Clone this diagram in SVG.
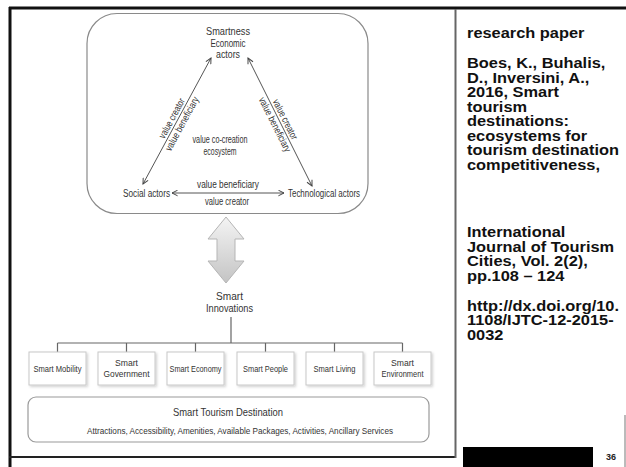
<svg xmlns="http://www.w3.org/2000/svg" width="626" height="467" viewBox="0 0 626 467">
  <defs>
    <style>
      .d { font-family: "Liberation Sans", Arial, sans-serif; fill: #333; font-size: 10px; text-anchor: middle; }
      .b { font-size: 9.5px; }
      .ref { font-family: "Liberation Sans", Arial, sans-serif; font-weight: bold; font-size: 14.5px; fill: #111; }
      .conn { stroke: #555; stroke-width: 1; fill: none; }
      .tree { stroke: #666; stroke-width: 1.2; fill: none; }
      .box { fill: #fff; stroke: #c8c8c8; stroke-width: 1; filter: url(#shadow); }
    </style>
    <marker id="head" viewBox="0 0 10 10" refX="9" refY="5" markerWidth="7" markerHeight="7" orient="auto-start-reverse" markerUnits="userSpaceOnUse">
      <path d="M1,1 L9,5 L1,9" fill="none" stroke="#444" stroke-width="1.4"/>
    </marker>
    <linearGradient id="arrowFill" x1="0" y1="0" x2="0" y2="1">
      <stop offset="0" stop-color="#f4f4f4"/>
      <stop offset="1" stop-color="#c4c4c4"/>
    </linearGradient>
    <filter id="shadow" x="-10%" y="-10%" width="125%" height="130%">
      <feDropShadow dx="1.5" dy="1.5" stdDeviation="1" flood-color="#000" flood-opacity="0.18"/>
    </filter>
  </defs>

  <rect width="626" height="467" fill="#fff"/>

  <!-- slide frame -->
  <g id="frame">
    <line x1="9" y1="8" x2="626" y2="8" stroke="#111" stroke-width="3"/>
    <line x1="10" y1="7" x2="10" y2="467" stroke="#111" stroke-width="3"/>
    <line x1="9" y1="457" x2="456" y2="457" stroke="#222" stroke-width="2"/>
    <line x1="455.5" y1="9" x2="455.5" y2="458" stroke="#666" stroke-width="2"/>
    <line x1="625" y1="415" x2="625" y2="467" stroke="#777" stroke-width="1"/>
  </g>

  <!-- ecosystem panel (labels condensed to fit) -->
  <g id="ecosystem">
    <rect x="87" y="13.5" width="281" height="200" rx="30" fill="#fff" stroke="#8a8a8a" stroke-width="1.2"/>
    <text class="d" x="228" y="35" style="font-size:10.5px" textLength="44" lengthAdjust="spacingAndGlyphs">Smartness</text>
    <text class="d" x="228" y="46.5" textLength="35" lengthAdjust="spacingAndGlyphs">Economic</text>
    <text class="d" x="228" y="58" textLength="24" lengthAdjust="spacingAndGlyphs">actors</text>
    <text class="d" x="220" y="143" textLength="55" lengthAdjust="spacingAndGlyphs">value co-creation</text>
    <text class="d" x="220" y="154.5" textLength="33" lengthAdjust="spacingAndGlyphs">ecosystem</text>
  </g>
  <g id="social-actors">
    <text class="d" x="170" y="196.5" style="text-anchor:end" textLength="47" lengthAdjust="spacingAndGlyphs">Social actors</text>
  </g>
  <g id="technological-actors">
    <text class="d" x="288" y="196.5" style="text-anchor:start" textLength="72" lengthAdjust="spacingAndGlyphs">Technological actors</text>
  </g>

  <!-- connectors between actors -->
  <g id="connectors">
    <line class="conn" x1="143" y1="184" x2="211" y2="58" marker-start="url(#head)" marker-end="url(#head)"/>
    <line class="conn" x1="248" y1="58" x2="312" y2="186" marker-start="url(#head)" marker-end="url(#head)"/>
    <line class="conn" x1="172" y1="193" x2="284" y2="193" marker-start="url(#head)" marker-end="url(#head)"/>
    <g transform="translate(177,121) rotate(-61.6)">
      <text class="d" x="0" y="-2.5" textLength="44" lengthAdjust="spacingAndGlyphs">value creator</text>
      <text class="d" x="0" y="9" textLength="60" lengthAdjust="spacingAndGlyphs">value beneficiary</text>
    </g>
    <g transform="translate(280,122) rotate(63.4)">
      <text class="d" x="0" y="-2.5" textLength="44" lengthAdjust="spacingAndGlyphs">value creator</text>
      <text class="d" x="0" y="9" textLength="60" lengthAdjust="spacingAndGlyphs">value beneficiary</text>
    </g>
    <text class="d" x="228" y="188" textLength="62" lengthAdjust="spacingAndGlyphs">value beneficiary</text>
    <text class="d" x="227" y="205" textLength="44" lengthAdjust="spacingAndGlyphs">value creator</text>

    <!-- tree from Smart Innovations -->
    <path class="tree" d="M231,317 V343 M57.5,343 H402.5 M57.5,343 V352 M126.5,343 V352 M195.5,343 V352 M265.5,343 V352 M334.5,343 V352 M402.5,343 V352"/>
  </g>

  <!-- double arrow -->
  <g id="double-arrow">
    <path d="M226,217 L244,239 L235,239 L235,261 L244,261 L226,283 L208,261 L217,261 L217,239 L208,239 Z" fill="url(#arrowFill)" stroke="#b5b5b5" stroke-width="1" stroke-linejoin="round"/>
  </g>

  <g id="smart-innovations">
    <text class="d" x="229.5" y="299.5" style="font-size:10.5px" textLength="27" lengthAdjust="spacingAndGlyphs">Smart</text>
    <text class="d" x="229.5" y="312" style="font-size:10.5px" textLength="47" lengthAdjust="spacingAndGlyphs">Innovations</text>
  </g>

  <g id="smart-mobility">
    <rect class="box" x="29" y="352" width="57" height="33"/>
    <text class="d b" x="57.5" y="371.5" textLength="48" lengthAdjust="spacingAndGlyphs">Smart Mobility</text>
  </g>
  <g id="smart-government">
    <rect class="box" x="98" y="352" width="57" height="33"/>
    <text class="d b" x="126.5" y="365.5" textLength="23" lengthAdjust="spacingAndGlyphs">Smart</text>
    <text class="d b" x="126.5" y="377" textLength="46" lengthAdjust="spacingAndGlyphs">Government</text>
  </g>
  <g id="smart-economy">
    <rect class="box" x="167" y="352" width="57" height="33"/>
    <text class="d b" x="195.5" y="371.5" textLength="52" lengthAdjust="spacingAndGlyphs">Smart Economy</text>
  </g>
  <g id="smart-people">
    <rect class="box" x="237" y="352" width="57" height="33"/>
    <text class="d b" x="265.5" y="371.5" textLength="45" lengthAdjust="spacingAndGlyphs">Smart People</text>
  </g>
  <g id="smart-living">
    <rect class="box" x="306" y="352" width="57" height="33"/>
    <text class="d b" x="334.5" y="371.5" textLength="42" lengthAdjust="spacingAndGlyphs">Smart Living</text>
  </g>
  <g id="smart-environment">
    <rect class="box" x="374" y="352" width="57" height="33"/>
    <text class="d b" x="402.5" y="365.5" textLength="23" lengthAdjust="spacingAndGlyphs">Smart</text>
    <text class="d b" x="402.5" y="377" textLength="42" lengthAdjust="spacingAndGlyphs">Environment</text>
  </g>

  <g id="smart-tourism-destination">
    <rect x="28" y="397" width="401" height="45" rx="8" fill="#fff" stroke="#9a9a9a" stroke-width="1.2"/>
    <text class="d" x="228" y="415.5" style="font-size:11px" textLength="110" lengthAdjust="spacingAndGlyphs">Smart Tourism Destination</text>
    <text class="d" x="240" y="433.5" style="font-size:9.5px" textLength="306" lengthAdjust="spacingAndGlyphs">Attractions, Accessibility, Amenities, Available Packages, Activities, Ancillary Services</text>
  </g>

  <!-- reference column, set slightly wide -->
  <g id="reference" transform="translate(467,0) scale(1.13,1)">
    <text class="ref" x="0" y="38.5">research paper</text>
    <text class="ref" x="0" y="68.5">Boes, K., Buhalis,</text>
    <text class="ref" x="0" y="83">D., Inversini, A.,</text>
    <text class="ref" x="0" y="97.5">2016, Smart</text>
    <text class="ref" x="0" y="112">tourism</text>
    <text class="ref" x="0" y="126.5">destinations:</text>
    <text class="ref" x="0" y="141">ecosystems for</text>
    <text class="ref" x="0" y="155.5">tourism destination</text>
    <text class="ref" x="0" y="170">competitiveness,</text>
    <text class="ref" x="0" y="237.5">International</text>
    <text class="ref" x="0" y="252">Journal of Tourism</text>
    <text class="ref" x="0" y="266.5">Cities, Vol. 2(2),</text>
    <text class="ref" x="0" y="281">pp.108 – 124</text>
    <text class="ref" x="0" y="311">http://dx.doi.org/10.</text>
    <text class="ref" x="0" y="325.5">1108/IJTC-12-2015-</text>
    <text class="ref" x="0" y="340">0032</text>
  </g>

  <g id="footer">
    <rect x="463" y="447" width="130" height="20" fill="#000"/>
    <text x="616" y="460" style="font-family:'Liberation Sans',Arial,sans-serif;font-weight:bold;font-size:9px;fill:#222;text-anchor:end">36</text>
  </g>
</svg>
